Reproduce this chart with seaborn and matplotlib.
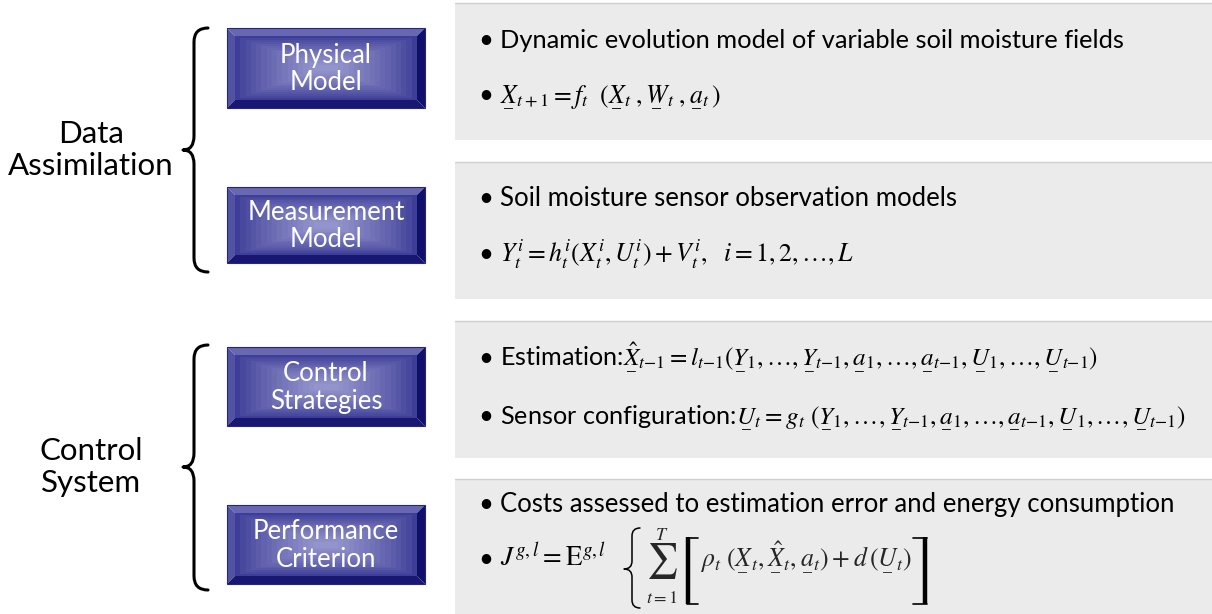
import numpy as np
import seaborn as sns
import matplotlib
matplotlib.use('Agg')
import matplotlib.pyplot as plt
from matplotlib.patches import Rectangle, Polygon, PathPatch
from matplotlib.path import Path
from matplotlib.colors import to_rgb

sns.set_theme(style='white')
plt.rcParams['font.family'] = ['Lato', 'DejaVu Sans']
plt.rcParams['mathtext.fontset'] = 'stix'


def u(s):
    # underlined symbol (vector notation in the original slide)
    return r'\underset{\_}{' + s + '}'


# Text content of the diagram
group_labels = ['Data\nAssimilation', 'Control\nSystem']
box_labels = ['Physical\nModel', 'Measurement\nModel', 'Control\nStrategies', 'Performance\nCriterion']
args_seq = (u('Y') + r'_1,\ldots,' + u('Y') + r'_{t{-}1},' + u('a') + r'_1,\ldots,' + u('a') + r'_{t{-}1},'
            + u('U') + r'_1,\ldots,' + u('U') + r'_{t{-}1})')
first_lines = [
    'Dynamic evolution model of variable soil moisture fields',
    'Soil moisture sensor observation models',
    'Estimation:$' + r'\hat{' + u('X') + r'}_{t{-}1} = l_{t{-}1}(' + args_seq + '$',
    'Costs assessed to estimation error and energy consumption',
]
second_lines = [
    '$' + u('X') + r'_{t+1} = f_t\;\ (' + u('X') + r'_t\;,' + u('W') + r'_t\;,' + u('a') + r'_t\,)$',
    r'$Y_t^i = h_t^i(X_t^i,U_t^i) + V_t^i,\ \ i = 1,2,\ldots,L$',
    'Sensor configuration:$' + u('U') + r'_t = g_t\ (' + args_seq + '$',
    r'$J^{g,l} = \mathrm{E}^{g,l}$',
]
cost_sum_upper = '$T$'
cost_sum_lower = '$t{=}1$'
cost_body = (r'$\rho_t\ (' + u('X') + r'_t,\hat{' + u('X') + r'}_t,' + u('a') + r'_t) + d\,(' + u('U')
             + r'_t)$')

# layout (pixel coordinates)
panel_tops = [3, 162, 321, 479]
panel_h = 137
box_tops = [28, 187, 347, 505]
box_h = [80, 76, 79, 79]
first_base = [48, 206, 366, 512]
second_base = [103, 262, 424, 567]
brace_spans = [(28, 150, 272), (345, 467, 590)]
label_y = [150, 467]
fs_text = [18.3, 18.5, 18.1, 18.5]
fs_math = [18.5, 18.5, 18.2, 19.5]

fig = plt.figure(figsize=(12.12, 6.14), dpi=100)
ax = fig.add_axes([0, 0, 1, 1])
ax.set_xlim(0, 1212)
ax.set_ylim(614, 0)
ax.axis('off')

# grey panels
for top in panel_tops:
    ax.add_patch(Rectangle((455, top), 760, panel_h, facecolor='#ebebeb', edgecolor='none'))
    ax.plot([455, 1212], [top, top], color='#cfcfcf', lw=1)


def button(x0, y0, x1, y1, label):
    b = 8
    c_edge = np.array(to_rgb('#3e3e98'))
    c_mid = np.array(to_rgb('#9494cc'))
    n = 16
    cx, cy = (x0 + x1) / 2, (y0 + y1) / 2
    hw0, hh0 = (x1 - x0) / 2 - b, (y1 - y0) / 2 - b
    for k in range(n):
        t = k / (n - 1)
        hw = hw0 + t * (12 - hw0)
        hh = hh0 + t * (3 - hh0)
        col = c_edge + (c_mid - c_edge) * t ** 0.8
        ax.add_patch(Rectangle((cx - hw, cy - hh), 2 * hw, 2 * hh, facecolor=col, edgecolor='none'))
    ax.add_patch(Polygon([(x0, y0), (x1, y0), (x1 - b, y0 + b), (x0 + b, y0 + b)], facecolor='#6868b2', edgecolor='none'))
    ax.add_patch(Polygon([(x0, y0), (x0 + b, y0 + b), (x0 + b, y1 - b), (x0, y1)], facecolor='#5252a4', edgecolor='none'))
    ax.add_patch(Polygon([(x1, y0), (x1, y1), (x1 - b, y1 - b), (x1 - b, y0 + b)], facecolor='#10106a', edgecolor='none'))
    ax.add_patch(Polygon([(x0, y1), (x1, y1), (x1 - b, y1 - b), (x0 + b, y1 - b)], facecolor='#181872', edgecolor='none'))
    ax.add_patch(Rectangle((x0, y0), x1 - x0, y1 - y0, facecolor='none', edgecolor='#26267a', lw=0.8))
    ax.text(cx, cy + 1, label, color='white', fontsize=18.5, ha='center', va='center',
            linespacing=1.12, multialignment='center')


for top, h, label in zip(box_tops, box_h, box_labels):
    button(227, top, 425, top + h, label)


def brace(y0, ym, y1, xs=194, xe=208, xt=183, r=14, lw=2.2):
    verts = [(xe, y0), (xs, y0), (xs, y0 + r), (xs, ym - r), (xs, ym), (xt, ym),
             (xs, ym), (xs, ym + r), (xs, y1 - r), (xs, y1), (xe, y1)]
    codes = [Path.MOVETO, Path.CURVE3, Path.CURVE3, Path.LINETO, Path.CURVE3, Path.CURVE3,
             Path.CURVE3, Path.CURVE3, Path.LINETO, Path.CURVE3, Path.CURVE3]
    ax.add_patch(PathPatch(Path(verts, codes), facecolor='none', edgecolor='black', lw=lw,
                           capstyle='round', joinstyle='round'))


for (y0, ym, y1), label, ly in zip(brace_spans, group_labels, label_y):
    brace(y0, ym, y1)
    ax.text(91, ly, label, fontsize=22.5, ha='center', va='center', linespacing=1.2,
            multialignment='center', color='black')

for yb, txt, fs in zip(first_base, first_lines, fs_text):
    ax.text(478, yb, '•', fontsize=18.5, va='baseline', color='black')
    ax.text(500, yb, txt, fontsize=fs, va='baseline', color='black')
for yb, txt, fs in zip(second_base, second_lines, fs_math):
    ax.text(478, yb, '•', fontsize=18.5, va='baseline', color='black')
    ax.text(500, yb, txt, fontsize=fs, va='baseline', color='black')

# cost criterion: big brace, sum and brackets
yb = second_base[3]
brace(528, 569, 608, xs=632, xe=640, xt=624, r=8, lw=1.1)
ax.text(662, 561, r'$\sum$', fontsize=25, ha='center', va='center')
ax.text(662, 540, cost_sum_upper, fontsize=13, ha='center', va='baseline')
ax.text(662, 603, cost_sum_lower, fontsize=13, ha='center', va='baseline')
ax.plot([688, 688], [537, 604], color='black', lw=3.2, solid_capstyle='butt')
ax.plot([686.5, 698, None, 686.5, 698], [537.5, 537.5, None, 603.5, 603.5], color='black', lw=1.2)
ax.text(700, yb, cost_body, fontsize=fs_math[1], va='baseline')
ax.plot([925, 925], [537, 604], color='black', lw=3.2, solid_capstyle='butt')
ax.plot([913, 926.5, None, 913, 926.5], [537.5, 537.5, None, 603.5, 603.5], color='black', lw=1.2)

fig.savefig('out.png', dpi=100)
